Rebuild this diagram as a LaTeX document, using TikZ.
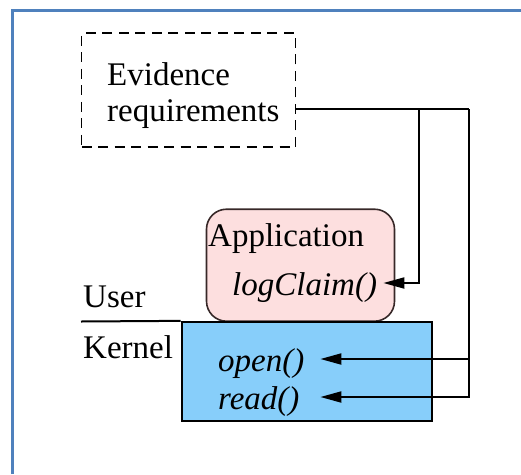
\documentclass[tikz,border=0pt]{standalone}
\usepackage{fontspec}
\setmainfont{Liberation Serif}
\usetikzlibrary{arrows.meta}
\definecolor{frameColor}{RGB}{79,129,189}
\definecolor{appColor}{RGB}{253,223,223}
\definecolor{appBorderColor}{RGB}{55,40,40}
\definecolor{kernelColor}{RGB}{135,206,250}
\tikzstyle{diagram} = [x = 1pt, y = -1pt, every node/.style={font=\fontsize{33}{36}\selectfont}]
\tikzstyle{frameLine} = [color=frameColor, line width=2.8pt]
\tikzstyle{evidenceBox} = [draw, dash pattern=on 10pt off 6.5pt, line width=1.9pt, minimum width=214pt, minimum height=114pt, inner sep=0]
\tikzstyle{appBox} = [draw=appBorderColor, fill=appColor, line width=1.6pt, rounded corners=20pt, minimum width=188pt, minimum height=112pt, inner sep=0]
\tikzstyle{kernelBox} = [draw, fill=kernelColor, line width=2.1pt, minimum width=250pt, minimum height=99pt, inner sep=0]
\tikzstyle{plainText} = [anchor=base west, inner sep=0]
\tikzstyle{funcText} = [anchor=west, inner sep=0, text height=24pt, text depth=0pt, text width=102pt, align=left]
\tikzstyle{wire} = [line width=2pt]
\tikzstyle{dividerLine} = [line width=2pt]
\tikzstyle{callArrow} = [wire, -{Triangle[length=21pt, width=11pt]}]

\begin{document}
\begin{tikzpicture}[diagram]
  \useasboundingbox (0,0) rectangle (521,474);
  \draw [frameLine] (12.3,474) -- (12.3,10.3) -- (521,10.3);

  \node (evidence) [evidenceBox] at (188.5,90.3) {};
  \node (evidenceTop) [plainText] at (107,85) {Evidence};
  \node (evidenceBottom) [plainText] at (107,121) {requirements};

  \node (application) [appBox] at (300.5,265.2) {};
  \node (kernel) [kernelBox] at (306.7,371.4) {};
  \node (appLabel) [plainText] at (208,246) {Application};
  \node (logClaim) [funcText, text width=151pt] at (232,283) {\textit{logClaim()}};
  \node (userLabel) [plainText] at (83,307) {User};
  \node (kernelLabel) [plainText] at (83,358) {Kernel};
  \node (open) [funcText] at (218,359) {\textit{open()}};
  \node (read) [funcText] at (218,397) {\textit{read()}};

  \coordinate (divider) at (81,321.5);
  \coordinate (evidenceOut) at (295.7,109.3);
  \coordinate (appBranch) at (419,109.3);
  \coordinate (kernelBranch) at (469.3,109.3);

  \draw [dividerLine] (divider) -- (kernel.north west);
  \draw [wire] (evidenceOut) -- (kernelBranch);
  \draw [callArrow] (appBranch) |- (logClaim);
  \draw [callArrow] (kernelBranch) |- (open);
  \draw [callArrow] (kernelBranch) |- (read);
\end{tikzpicture}
\end{document}
